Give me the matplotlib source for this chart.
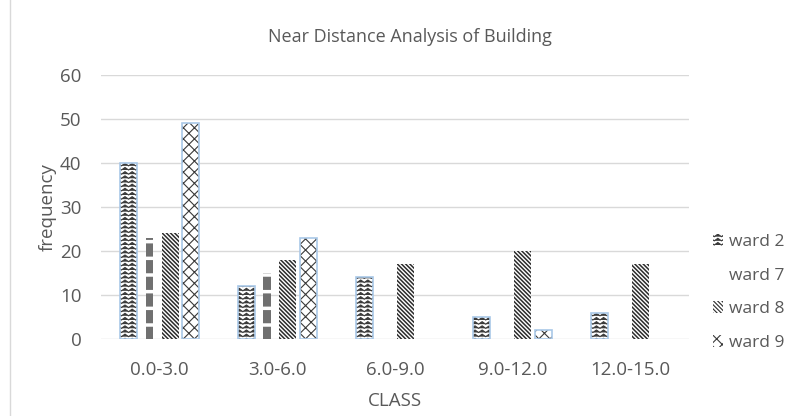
import warnings
import numpy as np
import matplotlib
matplotlib.use("Agg")
import matplotlib.pyplot as plt
from matplotlib import hatch as mhatch
from matplotlib.path import Path
from matplotlib.patches import Patch
from matplotlib.lines import Line2D

warnings.filterwarnings("ignore")

categories = ["0.0-3.0", "3.0-6.0", "6.0-9.0", "9.0-12.0", "12.0-15.0"]
ward2 = [40, 12, 14, 5, 6]
ward7 = [23, 15, 0, 0, 0]
ward8 = [24, 18, 17, 20, 17]
ward9 = [49, 23, 0, 2, 0]
series_names = ["ward 2", "ward 7", "ward 8", "ward 9"]


class ZigZagHatch(mhatch.HatchPatternBase):
    """Rows of small horizontal zigzags, selected with '~'."""

    def __init__(self, hatch, density):
        self.num_rows = int(hatch.count('~') * density)
        self.teeth = 14
        self.num_vertices = self.num_rows * (2 * self.teeth + 1)

    def set_vertices_and_codes(self, vertices, codes):
        n = 2 * self.teeth + 1
        xs = np.linspace(0, 1, n)
        amp = 0.3 / max(self.num_rows, 1)
        off = np.where(np.arange(n) % 2 == 0, -amp, amp)
        for i in range(self.num_rows):
            y = (i + 0.5) / self.num_rows
            vertices[i * n:(i + 1) * n, 0] = xs
            vertices[i * n:(i + 1) * n, 1] = y + off
            codes[i * n] = Path.MOVETO
            codes[i * n + 1:(i + 1) * n] = Path.LINETO


mhatch._hatch_types.append(ZigZagHatch)

plt.rcParams['font.family'] = ['Open Sans', 'DejaVu Sans']
txt = '#595959'
outline = '#a9c8e8'
fs = 13.5
stripes = '\\' * 8


def hide_empty(bars):
    for b in bars:
        if b.get_height() == 0:
            b.set_visible(False)


fig = plt.figure(figsize=(7.89, 4.16), dpi=100)
ax = fig.add_axes([0.128, 0.185, 0.745, 0.635])

x = np.arange(len(categories))
slot = 0.175
bw = 0.145

# ward 2: zigzag rows with a pale blue outline
plt.rcParams['hatch.linewidth'] = 0.8
hide_empty(ax.bar(x - 1.5 * slot, ward2, bw, color='white', hatch='~~~~',
                  edgecolor='#3a3a3a', linewidth=0, zorder=3))
hide_empty(ax.bar(x - 1.5 * slot, ward2, bw, fill=False, edgecolor=outline,
                  linewidth=1.2, zorder=4))

# ward 7: narrow grey strip with white breaks
plt.rcParams['hatch.linewidth'] = 2.5
hide_empty(ax.bar(x - 0.5 * slot, ward7, 0.065, color='#707070', hatch='-',
                  edgecolor='white', linewidth=0, zorder=3))

# ward 8: dense dark diagonal stripes
plt.rcParams['hatch.linewidth'] = 1.1
hide_empty(ax.bar(x + 0.5 * slot, ward8, bw, color='white', hatch=stripes,
                  edgecolor='#2b2b2b', linewidth=0, zorder=3))

# ward 9: open lattice with pale outline
plt.rcParams['hatch.linewidth'] = 0.8
hide_empty(ax.bar(x + 1.5 * slot, ward9, bw, color='white', hatch='xxx',
                  edgecolor='#3a3a3a', linewidth=0, zorder=3))
hide_empty(ax.bar(x + 1.5 * slot, ward9, bw, fill=False, edgecolor=outline,
                  linewidth=1.2, zorder=4))

ax.set_xlim(-0.5, len(categories) - 0.5)
ax.set_ylim(0, 60)
ax.set_yticks(range(0, 61, 10))
ax.set_xticks(x)
ax.set_xticklabels(categories)
ax.yaxis.grid(True, color='#d9d9d9', linewidth=1, zorder=0)
ax.set_axisbelow(True)
for s in ax.spines.values():
    s.set_visible(False)
ax.tick_params(axis='both', length=0, labelsize=fs, labelcolor=txt)
ax.tick_params(axis='y', pad=14)
ax.tick_params(axis='x', pad=16)

ax.set_ylabel('frequency', fontsize=fs, color=txt, labelpad=2)
ax.set_xlabel('CLASS', fontsize=fs, color=txt, labelpad=9)
fig.text(0.52, 0.91, 'Near Distance Analysis of Building', ha='center',
         va='center', fontsize=13, color=txt)

# chart frame edge on the left
fig.add_artist(Line2D([10 / 789, 10 / 789], [0, 1], transform=fig.transFigure,
                      color='#d9d9d9', linewidth=1))

plt.rcParams['hatch.linewidth'] = 0.8
handles = [
    Patch(facecolor='white', hatch='~~~~', edgecolor='#3a3a3a', linewidth=0),
    Patch(facecolor='none', edgecolor='none'),
    Patch(facecolor='white', hatch=stripes, edgecolor='#2b2b2b', linewidth=0),
    Patch(facecolor='white', hatch='xxx', edgecolor='#3a3a3a', linewidth=0),
]
leg = fig.legend(handles, series_names, loc='center left',
                 bbox_to_anchor=(0.888, 0.297), frameon=False, fontsize=12.5,
                 handlelength=0.6, handleheight=0.7, handletextpad=0.35,
                 labelspacing=1.0, borderpad=0.2)
for t in leg.get_texts():
    t.set_color(txt)

fig.savefig('out.png', dpi=100)
